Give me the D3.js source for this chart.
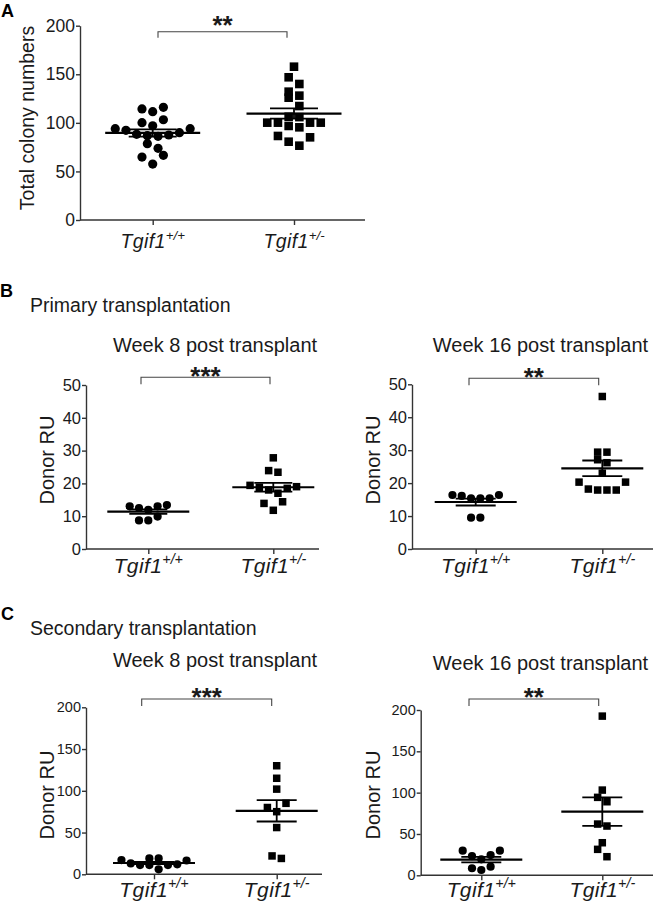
<!DOCTYPE html>
<html><head><meta charset="utf-8">
<script src="https://cdn.jsdelivr.net/npm/d3@7"></script>
<style>
body{margin:0;background:#fff}
svg{display:block;font-family:"Liberation Sans",Arial,Helvetica,sans-serif}
</style>
</head><body>
<svg id="c" width="666" height="906"></svg>
<script>
// ---------------- DATA ----------------
const gene = "Tgif1";
const genotypes = ["+/+", "+/-"];
const panelLetters = ["A", "B", "C"];
const sectionTitles = ["Primary transplantation", "Secondary transplantation"];
const weekTitles = ["Week 8 post transplant", "Week 16 post transplant"];
const yLabels = ["Total colony numbers", "Donor RU"];
const sigLabels = ["**", "***", "**", "***", "**"];

const colonyTicks = [0, 50, 100, 150, 200];
const ruTicks50 = [0, 10, 20, 30, 40, 50];
const ruTicks200 = [0, 50, 100, 150, 200];

// A: total colony numbers
const colonyWT  = [116, 111.5, 114.3, 100.2, 103.2, 97, 94, 94, 92.3, 89.9, 87.5, 86.8, 86.1, 88.2, 78.6, 73.8, 66.6, 64.8, 57.6];
const colonyHet = [157.8, 146.9, 140, 132.1, 128, 125.9, 117.3, 106.3, 105.9, 100.2, 100.2, 100.2, 100.2, 96.8, 95.4, 85.1, 86.5, 80.6, 76.5];
// B: primary transplantation, donor RU
const primW8WT   = [13.0, 12.5, 13.0, 13.4, 11.9, 9.9, 8.7, 8.7];
const primW8Het  = [27.8, 23.9, 23.4, 19.4, 19.0, 18.8, 18.5, 18.0, 17.0, 14.4, 13.9, 11.8];
const primW16WT  = [16.4, 16.1, 15.4, 15.4, 15.4, 16.4, 9.5, 9.5];
const primW16Het = [46.3, 29.4, 29.4, 27.1, 26.2, 23.0, 20.3, 20.3, 17.9, 17.9, 17.9, 18.2];
// C: secondary transplantation, donor RU
const secW8WT   = [17, 19, 19, 16.5, 13, 12, 11, 11, 11, 6];
const secW8Het  = [130, 115, 102, 85, 80, 75, 56, 19, 22];
const secW16WT  = [29.8, 29.8, 23.3, 24.5, 19.3, 10.4, 6.4, 8.5];
const secW16Het = [192.6, 103.1, 94.3, 89, 59.6, 62, 39.4, 31.4, 22.5];

// ---------------- LAYOUT ----------------
const svg = d3.select("#c");
const INK = "#1a1a1a";

const panels = [
  {wt: colonyWT, het: colonyHet, domain: [0, 200], ticks: colonyTicks, yLabel: yLabels[0], sig: sigLabels[0], title: null,
   L: {x0: 80, x1: 365, yTop: 25.7, yBot: 220, c1: 152.7, c2: 294, tickFont: 17.5, yLX: 34, yLY: 118, yLFont: 19.5,
       r: 4.6, sq: 8.6, sp: 10.7, bin: 10, meanHalf: 47.5, semHalf: 24, brY: 31.7, brX1: 158, brX2: 287, brDrop: 6,
       starY: 34, catBase: 248, catFont: 19.5}},
  {wt: primW8WT, het: primW8Het, domain: [0, 50], ticks: ruTicks50, yLabel: yLabels[1], sig: sigLabels[1], title: weekTitles[0],
   L: {x0: 86, x1: 319, yTop: 385, yBot: 549, c1: 148.3, c2: 273.3, tickFont: 16.5, yLX: 54, yLY: 460, yLFont: 20,
       r: 4.1, sq: 7.5, sp: 9.3, bin: 10, meanHalf: 41, semHalf: 19, brY: 377.3, brX1: 141, brX2: 270, brDrop: 7,
       starY: 384.5, catBase: 573, catFont: 21}},
  {wt: primW16WT, het: primW16Het, domain: [0, 50], ticks: ruTicks50, yLabel: yLabels[1], sig: sigLabels[2], title: weekTitles[1],
   L: {x0: 412, x1: 653, yTop: 384.3, yBot: 549, c1: 475.7, c2: 602.3, tickFont: 16.5, yLX: 379.7, yLY: 460, yLFont: 20,
       r: 4.1, sq: 7.5, sp: 9.3, bin: 10, meanHalf: 41, semHalf: 20, brY: 378.3, brX1: 469, brX2: 598.7, brDrop: 7,
       starY: 385.5, catBase: 573, catFont: 21}},
  {wt: secW8WT, het: secW8Het, domain: [0, 200], ticks: ruTicks200, yLabel: yLabels[1], sig: sigLabels[3], title: weekTitles[0],
   L: {x0: 86, x1: 322, yTop: 707.3, yBot: 874.3, c1: 154, c2: 276.7, tickFont: 14.5, yLX: 54, yLY: 795, yLFont: 20,
       r: 4.1, sq: 7.5, sp: 9.3, bin: 10, meanHalf: 41, semHalf: 20, brY: 699, brX1: 141.7, brX2: 271.7, brDrop: 7,
       starY: 705.5, catBase: 897, catFont: 21}},
  {wt: secW16WT, het: secW16Het, domain: [0, 200], ticks: ruTicks200, yLabel: yLabels[1], sig: sigLabels[4], title: weekTitles[1],
   L: {x0: 420.7, x1: 653, yTop: 710, yBot: 875.3, c1: 481.3, c2: 602.3, tickFont: 14.5, yLX: 379.7, yLY: 795, yLFont: 20,
       r: 4.1, sq: 7.5, sp: 9.3, bin: 10, meanHalf: 41, semHalf: 20, brY: 699, brX1: 469, brX2: 598.7, brDrop: 7,
       starY: 705.5, catBase: 897, catFont: 21}}
];
panels[1].L.titleX = 215; panels[1].L.titleY = 351.7;
panels[2].L.titleX = 540.5; panels[2].L.titleY = 351.7;
panels[3].L.titleX = 215; panels[3].L.titleY = 666.7;
panels[4].L.titleX = 540.5; panels[4].L.titleY = 670;

// Panel letters and section titles
const letterPos = [[1, 17], [0, 297], [1, 620]];
panelLetters.forEach((t, i) => {
  svg.append("text").attr("x", letterPos[i][0]).attr("y", letterPos[i][1])
    .attr("font-size", 18).attr("font-weight", "bold").attr("fill", "#000").text(t);
});
const sectionPos = [[30, 311.7], [30, 635]];
sectionTitles.forEach((t, i) => {
  svg.append("text").attr("x", sectionPos[i][0]).attr("y", sectionPos[i][1])
    .attr("font-size", 19.5).attr("fill", INK).text(t);
});

// Prism-like column scatter: bin by pixel height, spread center-out
function swarm(values, y, binPx, sp) {
  const s = values.map((v, i) => ({v, i})).sort((a, b) => a.v - b.v);
  const bins = [];
  let cur = null;
  s.forEach(d => {
    if (!cur || (y(cur[0].v) - y(d.v)) > binPx) { cur = [d]; bins.push(cur); }
    else cur.push(d);
  });
  const out = [];
  bins.forEach(b => {
    const n = b.length;
    b.forEach((d, k) => {
      let off;
      if (n % 2 === 1) { const m = Math.ceil(k / 2); off = k === 0 ? 0 : (k % 2 ? -m : m); }
      else { const m = Math.floor(k / 2) + 0.5; off = k % 2 ? -m : m; }
      out.push({v: d.v, dx: off * sp});
    });
  });
  return out;
}

panels.forEach(p => {
  const L = p.L;
  const g = svg.append("g");
  const y = d3.scaleLinear().domain(p.domain).range([L.yBot, L.yTop]);
  const x = d3.scalePoint().domain(genotypes).range([L.c1, L.c2]);

  // y axis
  const ya = g.append("g").attr("transform", `translate(${L.x0},0)`)
    .call(d3.axisLeft(y).tickValues(p.ticks).tickSize(4).tickSizeOuter(0).tickPadding(1));
  ya.select(".domain").attr("stroke", "#333").attr("stroke-width", 1.4);
  ya.selectAll(".tick line").attr("stroke", "#333").attr("stroke-width", 1.4);
  ya.selectAll(".tick text").attr("font-size", L.tickFont).attr("fill", INK)
    .attr("font-family", '"Liberation Sans",Arial,sans-serif');

  // x axis
  g.append("line").attr("x1", L.x0).attr("x2", L.x1).attr("y1", L.yBot).attr("y2", L.yBot)
    .attr("stroke", "#333").attr("stroke-width", 1.4);
  const xa = g.append("g").attr("transform", `translate(0,${L.yBot})`)
    .call(d3.axisBottom(x).tickSize(5).tickSizeOuter(0).tickFormat(""));
  xa.select(".domain").remove();
  xa.selectAll(".tick line").attr("stroke", "#333").attr("stroke-width", 1.4);

  // category labels
  genotypes.forEach(gt => {
    const t = g.append("text").attr("x", x(gt)).attr("y", L.catBase).attr("text-anchor", "middle")
      .attr("font-size", L.catFont).attr("fill", INK);
    t.append("tspan").attr("font-style", "italic").attr("letter-spacing", 0.4).text(gene);
    t.append("tspan").attr("font-style", "italic").attr("font-size", L.catFont * 0.68)
      .attr("dy", -L.catFont * 0.42).attr("dx", 0).text(gt);
  });

  // y label
  g.append("text").attr("transform", `translate(${L.yLX},${L.yLY}) rotate(-90)`)
    .attr("text-anchor", "middle").attr("font-size", L.yLFont).attr("fill", INK).text(p.yLabel);

  // title
  if (p.title) {
    g.append("text").attr("x", L.titleX).attr("y", L.titleY).attr("text-anchor", "middle")
      .attr("font-size", 20).attr("fill", INK).text(p.title);
  }

  // significance bracket
  g.append("path")
    .attr("d", `M${L.brX1},${L.brY + L.brDrop}V${L.brY}H${L.brX2}V${L.brY + L.brDrop}`)
    .attr("fill", "none").attr("stroke", "#444").attr("stroke-width", 1.1);
  g.append("text").attr("x", (L.brX1 + L.brX2) / 2).attr("y", L.starY).attr("text-anchor", "middle")
    .attr("font-size", 26).attr("font-weight", "bold").attr("fill", INK).text(p.sig);

  // points
  [p.wt, p.het].forEach((vals, gi) => {
    const cx = x(genotypes[gi]);
    const pts = swarm(vals, y, L.bin, L.sp);
    if (gi === 0) {
      g.selectAll(null).data(pts).join("circle")
        .attr("cx", d => cx + d.dx).attr("cy", d => y(d.v)).attr("r", L.r).attr("fill", "#000");
    } else {
      g.selectAll(null).data(pts).join("rect")
        .attr("x", d => cx + d.dx - L.sq / 2).attr("y", d => y(d.v) - L.sq / 2)
        .attr("width", L.sq).attr("height", L.sq).attr("fill", "#000");
    }
    // mean and SEM
    const m = d3.mean(vals);
    const sem = d3.deviation(vals) / Math.sqrt(vals.length);
    g.append("line").attr("x1", cx - L.meanHalf).attr("x2", cx + L.meanHalf)
      .attr("y1", y(m)).attr("y2", y(m)).attr("stroke", "#000").attr("stroke-width", 2.2);
    [m - sem, m + sem].forEach(v => {
      g.append("line").attr("x1", cx - L.semHalf).attr("x2", cx + L.semHalf)
        .attr("y1", y(v)).attr("y2", y(v)).attr("stroke", "#000").attr("stroke-width", 1.8);
    });
    g.append("line").attr("x1", cx).attr("x2", cx).attr("y1", y(m - sem)).attr("y2", y(m + sem))
      .attr("stroke", "#000").attr("stroke-width", 1.8);
  });
});
</script>
</body></html>
